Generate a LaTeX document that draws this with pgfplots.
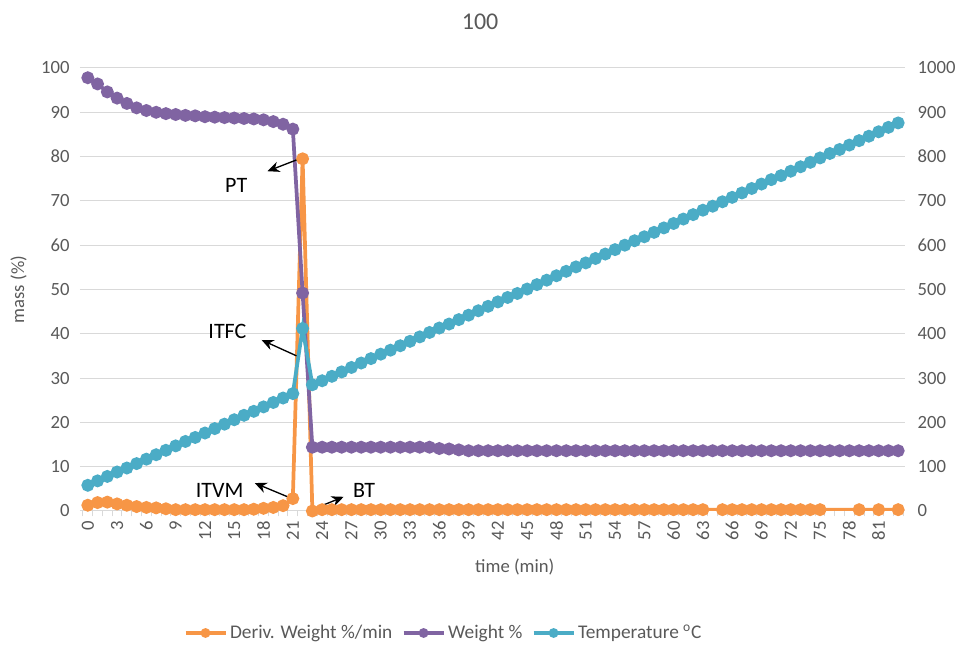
\documentclass[border=0pt]{standalone}
\usepackage{fontspec}
\setmainfont{Carlito}
\usepackage{pgfplots}
\pgfplotsset{compat=1.18}
\usetikzlibrary{arrows.meta}
\definecolor{cOr}{HTML}{F79646}
\definecolor{cPu}{HTML}{8064A2}
\definecolor{cTe}{HTML}{4BACC6}
\definecolor{cGr}{HTML}{D9D9D9}
\definecolor{cTx}{HTML}{595959}

\pgfplotstableread{
t d
0 1.3
1 1.9
2 2.0
3 1.6
4 1.3
5 1.0
6 0.8
7 0.7
8 0.5
9 0.3
10 0.3
11 0.3
12 0.3
13 0.3
14 0.3
15 0.3
16 0.3
17 0.4
18 0.6
19 0.8
20 1.2
21 2.8
22 79.5
23 0.0
24 0.3
25 0.3
26 0.3
27 0.3
28 0.3
29 0.3
30 0.3
31 0.3
32 0.3
33 0.3
34 0.3
35 0.3
36 0.3
37 0.3
38 0.3
39 0.3
40 0.3
41 0.3
42 0.3
43 0.3
44 0.3
45 0.3
46 0.3
47 0.3
48 0.3
49 0.3
50 0.3
51 0.3
52 0.3
53 0.3
54 0.3
55 0.3
56 0.3
57 0.3
58 0.3
59 0.3
60 0.3
61 0.3
62 0.3
63 0.3
65 0.3
66 0.3
67 0.3
68 0.3
69 0.3
70 0.3
71 0.3
72 0.3
73 0.3
74 0.3
75 0.3
79 0.3
81 0.3
83 0.3
}\deriv

\pgfplotstableread{
t w
0 97.8
1 96.4
2 94.6
3 93.2
4 92.0
5 91.0
6 90.4
7 90.0
8 89.7
9 89.5
10 89.3
11 89.2
12 89.0
13 88.9
14 88.8
15 88.7
16 88.6
17 88.5
18 88.3
19 87.9
20 87.3
21 86.2
22 49.2
23 14.4
24 14.4
25 14.4
26 14.4
27 14.4
28 14.4
29 14.4
30 14.4
31 14.4
32 14.4
33 14.4
34 14.4
35 14.4
36 14.1
37 14.0
38 13.8
39 13.6
40 13.6
41 13.6
42 13.6
43 13.6
44 13.6
45 13.6
46 13.6
47 13.6
48 13.6
49 13.6
50 13.6
51 13.6
52 13.6
53 13.6
54 13.6
55 13.6
56 13.6
57 13.6
58 13.6
59 13.6
60 13.6
61 13.6
62 13.6
63 13.6
64 13.6
65 13.6
66 13.6
67 13.6
68 13.6
69 13.6
70 13.6
71 13.6
72 13.6
73 13.6
74 13.6
75 13.6
76 13.6
77 13.6
78 13.6
79 13.6
80 13.6
81 13.6
82 13.6
83 13.6
}\weight

\pgfplotstableread{
t T
0 58
1 68
2 78
3 88
4 97
5 107
6 117
7 127
8 137
9 147
10 157
11 166
12 176
13 186
14 196
15 206
16 216
17 225
18 235
19 245
20 255
21 265
22 412
23 285
24 294
25 304
26 314
27 324
28 334
29 344
30 354
31 363
32 373
33 383
34 393
35 403
36 413
37 422
38 432
39 442
40 452
41 462
42 472
43 482
44 491
45 501
46 511
47 521
48 531
49 541
50 551
51 560
52 570
53 580
54 590
55 600
56 610
57 619
58 629
59 639
60 649
61 659
62 669
63 679
64 688
65 698
66 708
67 718
68 728
69 738
70 748
71 757
72 767
73 777
74 787
75 797
76 807
77 816
78 826
79 836
80 846
81 856
82 866
83 876
}\temp

\begin{document}
\begin{tikzpicture}
\useasboundingbox (-60pt,-105.75pt) rectangle (663.75pt,383.25pt);
\pgfplotsset{
  myaxis/.style={
    at={(0pt,0pt)}, anchor=south west,
    scale only axis, width=618.75pt, height=332.25pt,
    xmin=-0.8, xmax=83.7,
    /pgf/number format/assume math mode=true,
    /pgf/number format/1000 sep={},
    ticklabel style={font=\fontsize{14}{16}\selectfont, text=cTx},
    every axis plot/.append style={line width=2.8pt, mark=*, mark size=3.4pt},
  }
}
\begin{axis}[myaxis,
  ymin=0, ymax=100, ytick={0,10,...,100},
  axis y line*=left, axis x line*=bottom,
  y axis line style={draw=none},
  x axis line style={draw=cGr, line width=0.75pt},
  ytick style={draw=none},
  xtick={0,3,...,81},
  xtick style={draw=none},
  minor xtick={-0.5,0.5,...,83.5},
  minor x tick style={draw=cGr, line width=0.75pt},
  minor tick length=4pt,
  tick align=outside,
  xticklabel style={rotate=90, anchor=east},
  ymajorgrids, grid style={draw=cGr, line width=0.75pt},
  xlabel={time (min)},
  xlabel style={at={(axis description cs:0.527,0)}, anchor=center, yshift=-42pt, font=\fontsize{14}{16}\selectfont, text=cTx},
  ylabel={mass (\%)},
  ylabel style={at={(axis description cs:-0.0743,0.5)}, anchor=center, font=\fontsize{14}{16}\selectfont, text=cTx},
  title={100},
  title style={at={(axis description cs:0.485,1)}, anchor=center, yshift=29pt, font=\fontsize{18}{20}\selectfont, text=cTx},
  legend style={at={(axis description cs:0.441,0)}, anchor=center, yshift=-91.5pt, draw=none, fill=none,
    font=\fontsize{14.5}{16}\selectfont, text=cTx, legend columns=3,
    /tikz/every even column/.append style={column sep=5pt}},
  legend image code/.code={\draw[#1, line width=2.8pt, mark=none] (0pt,0pt) -- (30pt,0pt);
     \fill[#1] (15pt,0pt) circle (2.2pt);},
]
\addplot[color=cOr, mark options={fill=cOr, draw=cOr}] table[x=t,y=d]{\deriv};
\addlegendentry{Deriv. Weight \%/min}
\addplot[color=cPu, mark options={fill=cPu, draw=cPu}] table[x=t,y=w]{\weight};
\addlegendentry{Weight \%}
\addlegendimage{color=cTe}
\addlegendentry{Temperature \textsuperscript{o}C}

\draw[-{Stealth[length=9pt,width=8pt]}, line width=1pt, black] (axis cs:21.9,79.7) -- (axis cs:18.4,76.7);
\node[font=\fontsize{16.5}{18}\selectfont, text=black] at (axis cs:15.2,73.4) {PT};
\draw[-{Stealth[length=9pt,width=8pt]}, line width=1pt, black] (axis cs:21.4,35) -- (axis cs:17.8,38.6);
\node[font=\fontsize{16.5}{18}\selectfont, text=black] at (axis cs:14.3,40.6) {ITFC};
\draw[-{Stealth[length=9pt,width=8pt]}, line width=1pt, black] (axis cs:20.8,2.9) -- (axis cs:17.1,6.3);
\node[font=\fontsize{16.5}{18}\selectfont, text=black] at (axis cs:13.5,4.7) {ITVM};
\draw[-{Stealth[length=9pt,width=8pt]}, line width=1pt, black] (axis cs:23.4,0.7) -- (axis cs:26.2,3.2);
\node[font=\fontsize{16.5}{18}\selectfont, text=black] at (axis cs:28.3,4.7) {BT};
\end{axis}

\begin{axis}[myaxis,
  ymin=0, ymax=1000, ytick={0,100,...,1000},
  axis y line*=right, axis x line=none,
  y axis line style={draw=none},
  ytick style={draw=none},
  yticklabel style={xshift=6pt},
]
\addplot[color=cTe, mark options={fill=cTe, draw=cTe}] table[x=t,y=T]{\temp};
\end{axis}
\end{tikzpicture}
\end{document}
